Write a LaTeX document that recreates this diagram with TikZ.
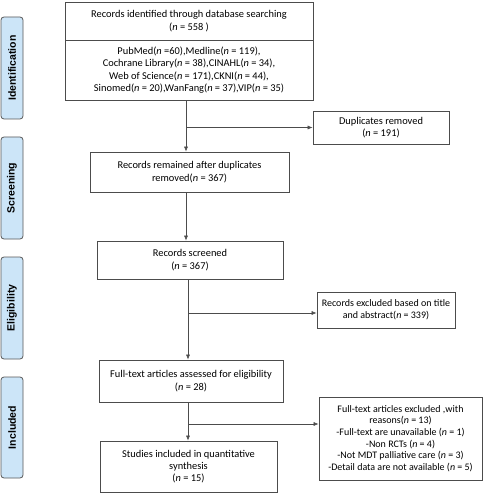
\documentclass[tikz,border=0pt]{standalone}
\usepackage{fontspec}
\setmainfont{Carlito}
\newfontfamily\labfont{Liberation Sans}
\usetikzlibrary{arrows.meta}
\definecolor{phasefill}{RGB}{204,229,248}
\newcommand{\nn}{\textit{n}}
\begin{document}
\begin{tikzpicture}[x=1pt,y=-1pt,
  box/.style={draw=black!70,line width=0.7pt,rectangle,inner sep=0pt,align=center,
    font=\fontsize{10.4}{12.3}\selectfont},
  phase/.style={draw=black!65,fill=phasefill,line width=0.8pt,rounded corners=3pt,
    minimum height=22pt,inner sep=0pt,font=\labfont\bfseries\fontsize{10.5}{12}\selectfont,rotate=90},
  conn/.style={draw=black!70,line width=0.6pt},
  arr/.style={conn,-{Latex[length=5pt,width=4pt]}}]
\useasboundingbox (0,0) rectangle (500,494);
\fill[white] (0,0) rectangle (500,494);
% phase labels
\node[phase,minimum width=102pt] (lid) at (12,68) {Identification};
\node[phase,minimum width=102pt] (lsc) at (12,188) {Screening};
\node[phase,minimum width=102pt] (lel) at (12,308) {Eligibility};
\node[phase,minimum width=101pt] (lin) at (12,427.5) {Included};
% boxes
\node[box,minimum width=248pt,minimum height=38pt] (topA) at (189,21) {Records identified through database searching\\(\nn{} = 558 )};
\node[box,minimum width=248pt,minimum height=60pt] (topB) at (189,70) {PubMed(\nn{} =60),Medline(\nn{} = 119),\\Cochrane Library(\nn{} = 38),CINAHL(\nn{} = 34),\\Web of Science(\nn{} = 171),CKNI(\nn{} = 44),\\Sinomed(\nn{} = 20),WanFang(\nn{} = 37),VIP(\nn{} = 35)};
\node[box,minimum width=136pt,minimum height=33pt] (dup) at (381,127.5) {Duplicates removed\\(\nn{} = 191)};
\node[box,minimum width=199pt,minimum height=40pt] (rem) at (189.5,172) {Records remained after duplicates\\removed(\nn{} = 367)};
\node[box,minimum width=186pt,minimum height=38pt] (scr) at (190,260) {Records screened\\(\nn{} = 367)};
\node[box,minimum width=138pt,minimum height=36pt,font=\fontsize{10}{12}\selectfont] (ex1) at (386,310) {Records excluded based on title\\and abstract(\nn{} = 339)};
\node[box,minimum width=184pt,minimum height=42pt] (ft) at (191,381) {Full-text articles assessed for eligibility\\(\nn{} = 28)};
\node[box,minimum width=163pt,minimum height=83pt,font=\fontsize{10}{11.7}\selectfont] (ex2) at (400.5,438.5) {Full-text articles excluded ,with\\reasons(\nn{} = 13)\\-Full-text are unavailable (\nn{} = 1)\\-Non RCTs (\nn{} = 4)\\-Not MDT palliative care (\nn{} = 3)\\-Detail data are not available (\nn{} = 5)};
\node[box,minimum width=177pt,minimum height=51pt] (st) at (188.5,466.5) {Studies included in quantitative\\synthesis\\(\nn{} = 15)};
% connectors
\coordinate (c1) at (186,127.5);
\coordinate (c2) at (188,313);
\coordinate (c3) at (188,424);
\draw[arr] (topB.south -| c1) -- (rem.north -| c1);
\draw[arr] (c1) -- (dup.west);
\draw[arr] (rem.south -| c1) -- (scr.north -| c1);
\draw[arr] (scr.south -| c2) -- (ft.north -| c2);
\draw[arr] (c2) -- (c2 -| ex1.west);
\draw[arr] (ft.south -| c3) -- (st.north -| c3);
\draw[arr] (c3) -- (c3 -| ex2.west);
\end{tikzpicture}
\end{document}
